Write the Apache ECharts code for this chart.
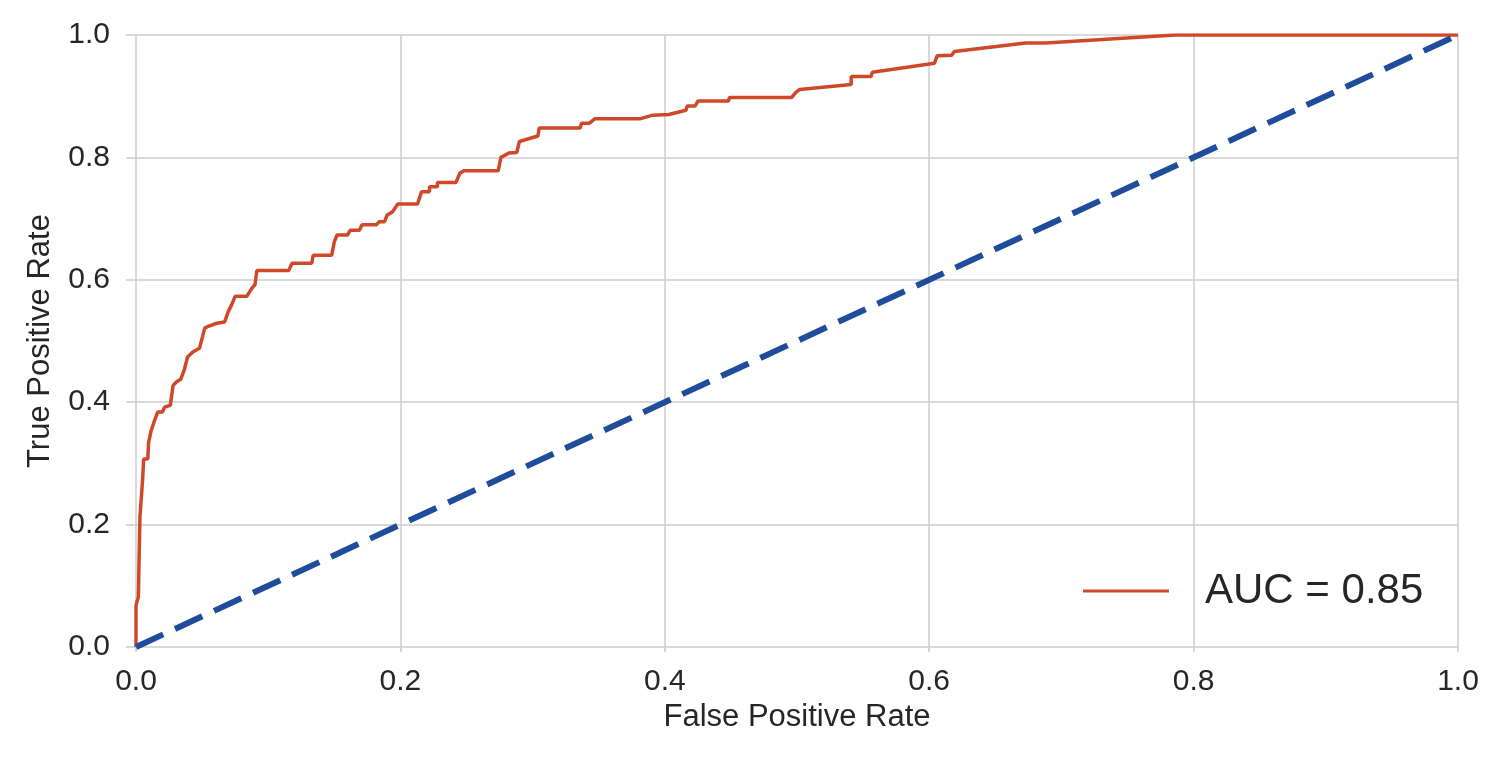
<!DOCTYPE html>
<html>
<head>
<meta charset="utf-8">
<title>ROC curve</title>
<script src="https://cdn.jsdelivr.net/npm/echarts@6.0.0/dist/echarts.min.js"></script>
<style>
  html, body { margin: 0; padding: 0; background: #fff; }
  #rocBox { width: 1500px; height: 766px; }
</style>
</head>
<body>
<div id="rocBox"></div>
<script>
// ROC curve points
var fpr = [0, 0, 0.0018, 0.0023, 0.003, 0.0043, 0.005, 0.0058, 0.0089, 0.0095, 0.0114, 0.014, 0.0165, 0.02, 0.0216,
  0.026, 0.028, 0.0305, 0.034, 0.0368, 0.039, 0.043, 0.048, 0.052, 0.0546, 0.061, 0.067, 0.0698, 0.0723, 0.075,
  0.0838, 0.0876, 0.09, 0.0914, 0.1155, 0.118, 0.133, 0.134, 0.148, 0.15, 0.152, 0.16, 0.162, 0.169, 0.171,
  0.182, 0.184, 0.188, 0.19, 0.194, 0.198, 0.213, 0.216, 0.222, 0.222, 0.228, 0.228, 0.242, 0.245, 0.248,
  0.274, 0.276, 0.282, 0.288, 0.29, 0.304, 0.305, 0.336, 0.337, 0.343, 0.347, 0.381, 0.391, 0.403, 0.416,
  0.417, 0.423, 0.425, 0.448, 0.449, 0.496, 0.499, 0.502, 0.541, 0.541, 0.556, 0.557, 0.604, 0.606, 0.617,
  0.619, 0.673, 0.688, 0.786, 1.0];
var tpr = [0, 0.068, 0.082, 0.14, 0.214, 0.252, 0.274, 0.307, 0.307, 0.334, 0.353, 0.37, 0.384, 0.384, 0.392,
  0.395, 0.427, 0.433, 0.438, 0.455, 0.474, 0.482, 0.488, 0.521, 0.524, 0.529, 0.531, 0.548, 0.559, 0.573,
  0.573, 0.586, 0.592, 0.615, 0.615, 0.627, 0.627, 0.64, 0.64, 0.662, 0.673, 0.673, 0.681, 0.681, 0.69,
  0.69, 0.695, 0.695, 0.706, 0.711, 0.724, 0.724, 0.744, 0.744, 0.752, 0.752, 0.759, 0.759, 0.774, 0.778,
  0.778, 0.8, 0.807, 0.808, 0.826, 0.835, 0.848, 0.848, 0.856, 0.856, 0.863, 0.863, 0.869, 0.87, 0.877,
  0.884, 0.884, 0.892, 0.892, 0.898, 0.898, 0.906, 0.911, 0.919, 0.932, 0.932, 0.939, 0.954, 0.966, 0.967,
  0.973, 0.987, 0.987, 1.0, 1.0];
// chance diagonal
var chanceX = [0, 1];
var chanceY = [0, 1];
var aucLabel = 'AUC = 0.85';

var textColor = '#262626';
var gridColor = '#cccccc';

var myChart = echarts.init(document.getElementById('rocBox'));

myChart.setOption({
  animation: false,
  textStyle: { fontFamily: '"Liberation Sans", Arial, sans-serif' },
  grid: { left: 136, right: 42, top: 35, bottom: 119 },
  legend: {
    data: [aucLabel],
    left: 1078,
    top: 561,
    icon: 'rect',
    itemWidth: 86,
    itemHeight: 3,
    textStyle: { fontSize: 42, color: textColor, padding: [0, 0, 0, 31], lineHeight: 50 }
  },
  xAxis: {
    type: 'value',
    min: 0,
    max: 1,
    interval: 0.2,
    name: 'False Positive Rate',
    nameLocation: 'middle',
    nameGap: 54,
    nameTextStyle: { fontSize: 31, color: textColor },
    axisLine: { show: false },
    axisTick: { show: true, length: 5, lineStyle: { color: gridColor, width: 1.5 } },
    axisLabel: { fontSize: 30, color: textColor, margin: 20, formatter: function (v) { return v.toFixed(1); } },
    splitLine: { show: true, lineStyle: { color: gridColor, width: 1.5 } }
  },
  yAxis: {
    type: 'value',
    min: 0,
    max: 1,
    interval: 0.2,
    name: 'True Positive Rate',
    nameLocation: 'middle',
    nameGap: 80,
    nameTextStyle: { fontSize: 31, color: textColor },
    axisLine: { show: false },
    axisTick: { show: true, length: 10, lineStyle: { color: gridColor, width: 1.5 } },
    axisLabel: { fontSize: 30, color: textColor, margin: 26, formatter: function (v) { return v.toFixed(1); } },
    splitLine: { show: true, lineStyle: { color: gridColor, width: 1.5 } }
  },
  series: [
    {
      name: aucLabel,
      type: 'line',
      data: fpr.map(function (x, i) { return [x, tpr[i]]; }),
      showSymbol: false,
      symbol: 'none',
      itemStyle: { color: '#d0482a' },
      lineStyle: { color: '#d0482a', width: 3.5 }
    },
    {
      name: 'chance',
      type: 'line',
      data: chanceX.map(function (x, i) { return [x, chanceY[i]]; }),
      showSymbol: false,
      symbol: 'none',
      lineStyle: { color: '#1f4d9b', width: 6, type: [30, 13], cap: 'butt' }
    }
  ]
});
</script>
</body>
</html>
